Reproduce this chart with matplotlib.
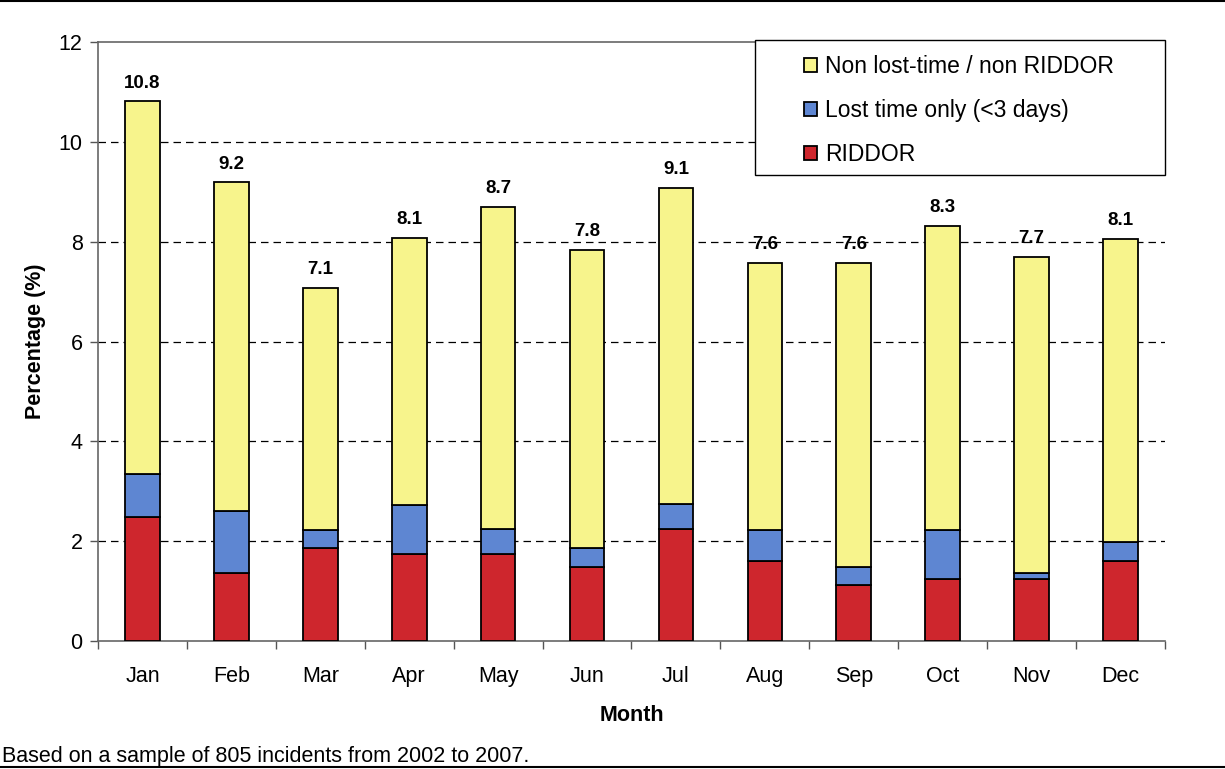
import matplotlib
matplotlib.use("Agg")
import matplotlib.pyplot as plt
from matplotlib.patches import Rectangle
from matplotlib.lines import Line2D
import numpy as np

plt.rcParams["font.family"] = ["Liberation Sans", "DejaVu Sans"]

# ── Data (percent of 805 incidents) ─────────────────────────────────────────────
MONTHS = ["Jan", "Feb", "Mar", "Apr", "May", "Jun",
          "Jul", "Aug", "Sep", "Oct", "Nov", "Dec"]
RIDDOR    = [2.48, 1.37, 1.86, 1.74, 1.74, 1.49, 2.24, 1.61, 1.12, 1.24, 1.24, 1.61]
LOST_TIME = [0.87, 1.24, 0.37, 0.99, 0.50, 0.37, 0.50, 0.62, 0.37, 0.99, 0.12, 0.37]
NON_LOST  = [7.46, 6.58, 4.84, 5.34, 6.46, 5.97, 6.34, 5.34, 6.09, 6.08, 6.33, 6.08]

SERIES_LABELS = ["RIDDOR", "Lost time only (<3 days)", "Non lost-time / non RIDDOR"]
COLOURS = ["#CE262D", "#5E86D2", "#F7F48C"]
FOOTNOTE = "Based on a sample of 805 incidents from 2002 to 2007."

FS = 15.5

fig = plt.figure(figsize=(12.25, 7.69), dpi=100)
ax = fig.add_axes([0.080, 0.1664, 0.871, 0.779])

x = np.arange(len(MONTHS))
bottom = np.zeros(len(MONTHS))
handles = []
for vals, colour, label in zip([RIDDOR, LOST_TIME, NON_LOST], COLOURS, SERIES_LABELS):
    bars = ax.bar(x, vals, width=0.39, bottom=bottom, color=colour,
                  edgecolor="black", linewidth=1.3, label=label, zorder=3)
    handles.append(bars)
    bottom = bottom + np.array(vals)

# totals above bars
for xi, total in zip(x, bottom):
    ax.annotate(f"{total:.1f}", (xi, total), xytext=(0, 7),
                textcoords="offset points", ha="center", va="bottom",
                fontsize=13.5, fontweight="bold")

ax.set_xlim(-0.5, len(MONTHS) - 0.5)
ax.set_ylim(0, 12)
ax.set_yticks(range(0, 13, 2))
ax.set_xticks(x)
ax.set_xticklabels(MONTHS, fontsize=FS)
ax.set_xticks(np.arange(-0.5, len(MONTHS)), minor=True)
ax.tick_params(axis="x", which="major", length=0, pad=18)
ax.tick_params(axis="x", which="minor", length=6, direction="out",
               color="#555555", width=1)
ax.tick_params(axis="y", length=6, direction="out", color="#555555",
               width=1, labelsize=FS, pad=5)

for yv in range(2, 12, 2):
    ax.axhline(yv, color="black", linewidth=0.9, linestyle=(0, (6, 4)), zorder=1)

ax.spines["right"].set_visible(False)
for side in ["left", "bottom", "top"]:
    ax.spines[side].set_color("#666666")
    ax.spines[side].set_linewidth(1.2)

ax.set_xlabel("Month", fontsize=FS, fontweight="bold")
ax.xaxis.set_label_coords(0.5, -0.106)
ax.set_ylabel("Percentage (%)", fontsize=FS, fontweight="bold")
ax.yaxis.set_label_coords(-0.049, 0.5)

# legend: white box with black frame, entries in reverse order
ax.add_patch(Rectangle((0.616, 0.778), 0.384, 0.225, transform=ax.transAxes,
                       facecolor="white", edgecolor="black", linewidth=1.0,
                       clip_on=False, zorder=5))
leg = ax.legend(handles[::-1], SERIES_LABELS[::-1], loc="upper left",
                bbox_to_anchor=(0.662, 0.978), frameon=False, fontsize=16.5,
                handlelength=0.57, handleheight=0.57, handletextpad=0.35,
                labelspacing=0.92, borderpad=0, borderaxespad=0)
leg.set_zorder(6)

# footnote and page rules
fig.text(0.002, 0.0095, FOOTNOTE, fontsize=FS, ha="left", va="baseline")
fig.add_artist(Line2D([0, 1], [0.999, 0.999], color="black", linewidth=1.5,
                      transform=fig.transFigure))
fig.add_artist(Line2D([0, 1], [0.002, 0.002], color="black", linewidth=1.5,
                      transform=fig.transFigure))

fig.savefig("out.png", dpi=100)
